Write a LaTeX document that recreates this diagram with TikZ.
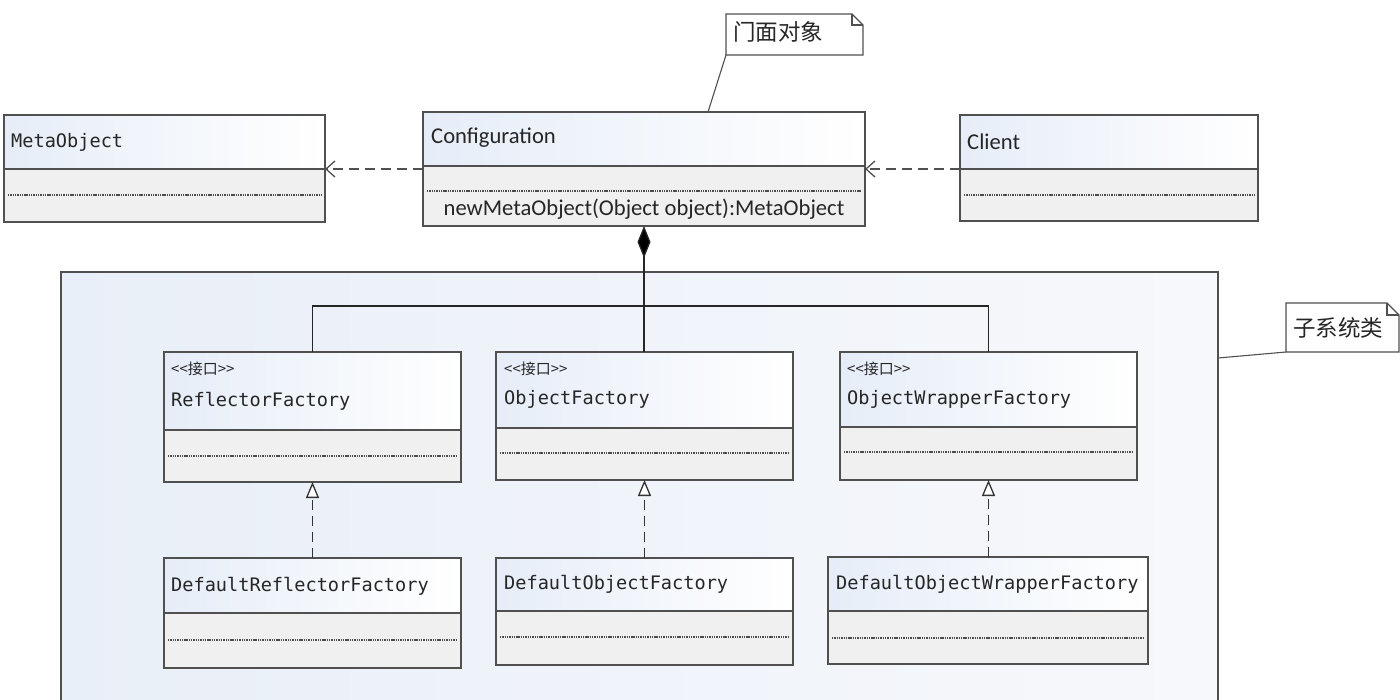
\documentclass[tikz,border=0pt]{standalone}
\usepackage{fontspec}
\usetikzlibrary{arrows.meta,calc}
\newfontfamily\cjk{Noto Sans CJK SC}
\newfontfamily\monof{DejaVu Sans Mono}
\newfontfamily\calib{Carlito}
\definecolor{topblue}{HTML}{E6EDF8}
\definecolor{botgray}{HTML}{F0F0F0}
\definecolor{edgecol}{HTML}{505050}
\definecolor{pkgblue}{HTML}{E9EFF8}
\definecolor{pkgright}{HTML}{F7F8FB}
\tikzset{
  classbox/.style={draw=edgecol, line width=1.3pt, rectangle, inner sep=0pt, outer sep=0pt},
  divline/.style={draw=edgecol, line width=1.2pt},
  dotline/.style={draw=black!70, line width=1.1pt, dash pattern=on 1.4pt off 0.9pt},
  mono/.style={font=\monof\fontsize{18.6}{20}\selectfont, text=black!85, inner sep=0pt, anchor=west},
  cal/.style={font=\calib\fontsize{22.6}{25}\selectfont, text=black!85, inner sep=0pt, anchor=west},
  stereo/.style={font=\cjk\fontsize{15}{17}\selectfont, text=black!85, inner sep=0pt, anchor=west},
  notetext/.style={font=\cjk\fontsize{22.5}{25}\selectfont, text=black!85, inner sep=0pt, anchor=west},
  depend/.style={draw=edgecol, line width=1.8pt, dash pattern=on 10pt off 6pt, -{Straight Barb[length=9pt,width=16pt,line width=1.3pt]}},
  realize/.style={draw=black!80, line width=1.6pt, dash pattern=on 10pt off 6pt, -{Triangle[open,length=16pt,width=13pt,line width=1.3pt,fill=white]}},
  plain/.style={draw=black!85, line width=1.3pt},
  notebox/.style={draw=edgecol, line width=1.2pt, fill=white},
  noteline/.style={draw=edgecol, line width=1.1pt},
}
% name, x1, y1, x2, y2, ydiv, ydot
\newcommand\umlclass[7]{%
  \shade[left color=topblue, right color=white] (#2,#3) rectangle (#4,#6);
  \fill[botgray] (#2,#6) rectangle (#4,#5);
  \draw[dotline] ($(#2,#7)+(4,0)$) -- ($(#4,#7)+(-4,0)$);
  \draw[divline] (#2,#6) -- (#4,#6);
  \node[classbox, minimum width={#4-#2}, minimum height={#5-#3}, anchor=north west] (#1) at (#2,#3) {};
}
% name, x1, y1, x2, y2, fold
\newcommand\umlnote[6]{%
  \node[inner sep=0pt, outer sep=0pt, minimum width={#4-#2}, minimum height={#5-#3}, anchor=north west] (#1) at (#2,#3) {};
  \draw[notebox] (#2,#3) -- ($(#4,#3)+(-#6,0)$) -- ($(#4,#3)+(0,#6)$) -- (#4,#5) -- (#2,#5) -- cycle;
  \draw[noteline] ($(#4,#3)+(-#6,0)$) -- ($(#4,#3)+(-#6,#6)$) -- ($(#4,#3)+(0,#6)$);
}
\begin{document}
\begin{tikzpicture}[x=1pt,y=-1pt]
\useasboundingbox (0,0) rectangle (1400,700);
\fill[white] (0,0) rectangle (1400,700);

% package frame
\shade[left color=pkgblue, right color=pkgright] (61,272) rectangle (1218,700);
\node[inner sep=0pt, outer sep=0pt, minimum width=1157, minimum height=428, anchor=north west] (pkg) at (61,272) {};
\draw[plain, draw=edgecol] (61,700) -- (61,272) -- (1218,272) -- (1218,700);
\coordinate (pkgside) at (1218,358);

% top classes
\umlclass{meta}{4}{115}{325}{222}{169}{195}
\node[mono] (metat) at (11,142) {MetaObject};
\umlclass{cfg}{423}{112}{865}{226}{166}{191}
\node[cal] (cfgt) at (431,138) {Configuration};
\node[cal, anchor=center] (cfgm) at (644,209) {newMetaObject(Object object):MetaObject};
\umlclass{client}{960}{115}{1258}{221}{169}{195}
\node[cal] (clientt) at (967,142) {Client};

% interfaces
\umlclass{rf}{164}{352}{461}{482}{430}{456}
\node[stereo] (rfs) at (171,369) {<<接口>>};
\node[mono] (rft) at (171,401) {ReflectorFactory};
\umlclass{of}{496}{352}{793}{480}{428}{453}
\node[stereo] (ofs) at (504,369) {<<接口>>};
\node[mono] (oft) at (504,399) {ObjectFactory};
\umlclass{owf}{840}{352}{1137}{480}{427}{452}
\node[stereo] (owfs) at (847,369) {<<接口>>};
\node[mono] (owft) at (847,399) {ObjectWrapperFactory};

% default implementations
\umlclass{drf}{164}{558}{461}{668}{613}{640}
\node[mono] (drft) at (171,586) {DefaultReflectorFactory};
\umlclass{dof}{496}{558}{793}{665}{611}{637}
\node[mono] (doft) at (504,584) {DefaultObjectFactory};
\umlclass{dowf}{828}{557}{1148}{664}{611}{638}
\node[mono] (dowft) at (836,584) {DefaultObjectWrapperFactory};

% dependencies
\draw[depend] (cfg.west) -- (meta.east |- cfg.west);
\draw[depend] (client.west |- cfg.east) -- (cfg.east);

% composition tree
\coordinate (bus) at (644,306);
\draw[plain, {Diamond[length=32pt,width=13pt,fill=black]}-] (cfg.south) -- (cfg.south |- of.north);
\draw[plain] (rf.north) |- (bus) -| (owf.north);

% realizations
\draw[realize] (drf.north) -- (rf.south);
\draw[realize] (dof.north) -- (of.south);
\draw[realize] (dowf.north -| owf.south) -- (owf.south);

% notes
\umlnote{n1}{726}{14}{863}{55}{11}
\node[notetext] (n1t) at (733,32) {门面对象};
\draw[noteline] (n1.south west) -- (708,112);
\umlnote{n2}{1286}{303}{1399}{352}{12}
\node[notetext] (n2t) at (1293,328) {子系统类};
\draw[noteline] (n2.south west) -- (pkgside);
\end{tikzpicture}
\end{document}
